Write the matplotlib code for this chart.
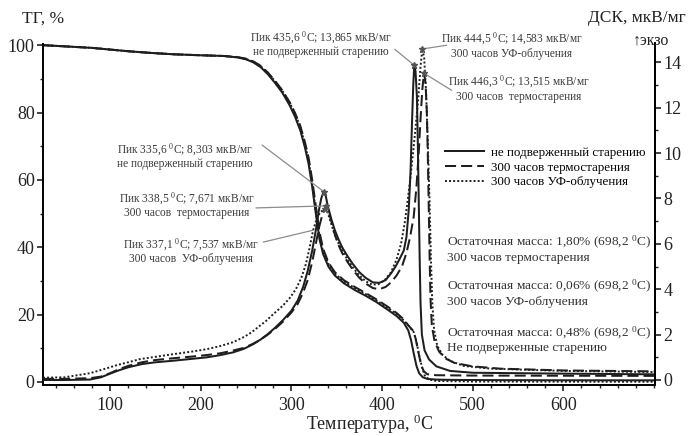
import matplotlib
matplotlib.use("Agg")
import matplotlib.pyplot as plt
from matplotlib.lines import Line2D
from matplotlib.ticker import MultipleLocator

plt.rcParams['font.family'] = ['Liberation Serif', 'DejaVu Serif']
plt.rcParams['mathtext.fontset'] = 'custom'
plt.rcParams['mathtext.rm'] = 'Liberation Serif'
plt.rcParams['mathtext.it'] = 'Liberation Serif:italic'

# ---------------- TG curves (left axis, %) ----------------
tg_ref_t = [26, 40, 60, 80, 100, 120, 145, 170, 200, 225, 240, 250, 258, 266, 274, 282,
            290, 298, 304, 310, 315, 319, 323, 327, 331, 335, 341, 348, 358, 370, 382,
            394, 406, 416, 424, 429, 432, 435, 438, 441, 445, 450, 460, 480, 520, 600, 700]
tg_ref = [100, 99.8, 99.5, 99.2, 98.7, 98.2, 97.7, 97.3, 97.0, 96.8, 96.4, 95.8, 94.9, 93.5,
          91.4, 88.8, 85.9, 82.2, 78.8, 74.6, 69.6, 64.8, 58.0, 50.0, 42.5, 38.0, 34.2,
          31.6, 29.3, 27.3, 25.6, 23.7, 21.5, 19.6, 17.6, 15.3, 12.5, 8.5, 4.8, 2.6, 1.4,
          0.9, 0.7, 0.6, 0.55, 0.5, 0.48]

tg_therm_t = [26, 40, 60, 80, 100, 120, 145, 170, 200, 225, 240, 250, 258, 266, 274, 282,
              290, 298, 304, 310, 315, 319, 323, 327, 331, 335, 341, 348, 358, 370, 382,
              394, 406, 416, 424, 429, 434, 437, 440, 443, 446, 450, 460, 500, 600, 700]
tg_therm = [100, 99.8, 99.5, 99.2, 98.7, 98.2, 97.7, 97.3, 97.0, 96.8, 96.5, 96.0, 95.2,
            93.9, 91.9, 89.4, 86.6, 83.1, 79.9, 75.9, 71.2, 66.6, 60.0, 52.2, 44.6, 39.6,
            35.4, 32.6, 30.2, 28.2, 26.4, 24.5, 22.4, 20.5, 18.6, 16.8, 15.3, 13.0, 9.0,
            5.2, 3.2, 2.3, 2.0, 1.9, 1.85, 1.8]

tg_uv_t = [26, 40, 60, 80, 100, 120, 145, 170, 200, 225, 240, 250, 258, 266, 274, 282,
           290, 298, 304, 310, 315, 319, 323, 327, 331, 335, 341, 348, 358, 370, 382,
           394, 406, 416, 424, 430, 435, 438, 441, 444, 447, 452, 460, 500, 600, 700]
tg_uv = [100, 99.8, 99.5, 99.2, 98.7, 98.2, 97.7, 97.3, 97.0, 96.8, 96.4, 95.9, 95.1,
         93.8, 91.8, 89.3, 86.5, 83.0, 79.8, 75.6, 70.6, 65.8, 58.8, 50.6, 43.4, 38.8,
         35.0, 32.2, 29.8, 27.9, 26.1, 24.2, 22.1, 20.2, 18.3, 16.5, 14.8, 12.0, 8.0,
         4.5, 2.0, 0.7, 0.3, 0.12, 0.08, 0.06]

# ---------------- DSC curves (right axis, мкВ/мг) ----------------
dsc_ref_t = [26, 50, 78, 90, 100, 110, 120, 135, 150, 170, 190, 207, 222, 236, 248, 258,
             266, 274, 282, 291, 300, 307, 313, 318, 323, 327, 330, 333, 335.6, 338, 340,
             344, 348, 352, 356, 362, 368, 375, 382, 390, 397, 404, 410, 415, 419, 424,
             427, 429.5, 431.5, 433, 434.5, 435.6, 437, 438.5, 439.5, 440.5, 441.5, 442.5,
             444, 447, 452, 460, 475, 500, 600, 700]
dsc_ref = [0.0, 0.0, 0.02, 0.12, 0.28, 0.43, 0.56, 0.70, 0.78, 0.85, 0.93, 1.0, 1.1, 1.22,
           1.38, 1.58, 1.78, 2.02, 2.3, 2.65, 3.05, 3.5, 4.1, 4.8, 5.7, 6.6, 7.4, 8.0,
           8.303, 8.1, 7.7, 7.1, 6.6, 6.2, 5.85, 5.45, 5.1, 4.75, 4.5, 4.3, 4.28, 4.4,
           4.7, 5.0, 5.3, 5.7, 6.3, 7.5, 9.2, 11.2, 13.0, 13.865, 13.6, 12.5, 10.5, 8.0,
           5.5, 3.4, 2.0, 1.3, 0.9, 0.6, 0.4, 0.32, 0.28, 0.25]

dsc_therm_t = [26, 50, 78, 90, 100, 110, 120, 135, 150, 170, 190, 207, 222, 236, 248, 258,
               266, 274, 282, 291, 300, 307, 313, 318, 323, 327, 331, 335, 338.5, 341,
               344, 348, 352, 356, 362, 368, 375, 382, 390, 397, 404, 410, 416, 422, 427,
               431, 435, 438, 440.5, 442.5, 444.5, 446.3, 448, 449.5, 450.5, 451.5, 452.5,
               453.5, 455, 458, 463, 470, 480, 500, 530, 600, 700]
dsc_therm = [0.05, 0.05, 0.08, 0.15, 0.3, 0.48, 0.62, 0.78, 0.88, 0.96, 1.03, 1.1, 1.18,
             1.3, 1.42, 1.6, 1.78, 2.0, 2.25, 2.58, 2.97, 3.35, 3.85, 4.4, 5.2, 6.0, 6.8,
             7.4, 7.671, 7.45, 7.0, 6.4, 5.95, 5.6, 5.2, 4.85, 4.5, 4.25, 4.05, 4.0, 4.1,
             4.3, 4.6, 5.0, 5.6, 6.3, 7.2, 8.5, 10.0, 11.5, 12.8, 13.515, 13.1, 11.8, 10.0,
             7.8, 5.5, 3.6, 2.4, 1.7, 1.25, 0.95, 0.75, 0.6, 0.5, 0.42, 0.38]

dsc_uv_t = [26, 50, 78, 95, 108, 120, 133, 150, 170, 190, 207, 222, 236, 248, 256, 264,
            272, 280, 290, 298, 305, 311, 316, 320, 324, 328, 332, 337.1, 340, 343, 347,
            351, 356, 362, 368, 375, 382, 389, 396, 403, 410, 416, 421, 425, 428, 431, 434,
            437, 440, 442.5, 444.5, 446.5, 448.5, 450.5, 452.5, 454, 455.5, 457.5, 461,
            467, 475, 490, 520, 600, 700]
dsc_uv = [0.1, 0.12, 0.3, 0.5, 0.66, 0.78, 0.92, 1.02, 1.14, 1.25, 1.36, 1.5, 1.67, 1.9,
          2.1, 2.35, 2.6, 2.9, 3.25, 3.6, 4.0, 4.5, 5.1, 5.8, 6.6, 7.1, 7.4, 7.537, 7.4,
          7.0, 6.5, 6.1, 5.7, 5.3, 4.95, 4.6, 4.35, 4.2, 4.22, 4.4, 4.75, 5.3, 6.0, 6.9,
          7.8, 8.8, 9.9, 11.1, 12.4, 13.8, 14.583, 14.2, 12.8, 10.5, 7.8, 5.3, 3.4, 2.2,
          1.5, 1.1, 0.85, 0.62, 0.5, 0.4, 0.35]

labels = ["не подверженный старению", "300 часов термостарения", "300 часов УФ-облучения"]

fig = plt.figure(figsize=(6.89, 4.36), dpi=100)
ax = fig.add_axes([0.0624, 0.117, 0.888, 0.784])
ax2 = ax.twinx()

ink = '#1e1e1e'
styles = [dict(ls='-', lw=1.45),
          dict(ls=(0, (5.5, 2.5)), lw=1.45),
          dict(ls=(0, (1, 1.1)), lw=1.4)]

for t, v, st in zip([tg_ref_t, tg_therm_t, tg_uv_t], [tg_ref, tg_therm, tg_uv], styles):
    ax.plot(t, v, color=ink, **st)
for t, v, st in zip([dsc_ref_t, dsc_therm_t, dsc_uv_t], [dsc_ref, dsc_therm, dsc_uv], styles):
    ax2.plot(t, v, color=ink, **st)

ax.set_xlim(26, 701)
ax.set_ylim(-0.9, 100.6)
ax2.set_ylim(-0.22, 14.84)

for a in (ax, ax2):
    a.spines['top'].set_visible(False)
    for s in a.spines.values():
        s.set_linewidth(1.4)
ax2.spines['left'].set_visible(False)
ax2.spines['bottom'].set_visible(False)
ax2.spines['right'].set_bounds(-0.22, 14.5)
ax.spines['left'].set_bounds(-0.9, 100.4)

ax.xaxis.set_major_locator(MultipleLocator(100))
ax.xaxis.set_minor_locator(MultipleLocator(20))
ax.yaxis.set_major_locator(MultipleLocator(20))
ax.yaxis.set_minor_locator(MultipleLocator(10))
ax2.yaxis.set_major_locator(MultipleLocator(2))
ax2.yaxis.set_minor_locator(MultipleLocator(1))
ax.set_xticks([100, 200, 300, 400, 500, 600])

for a in (ax, ax2):
    a.tick_params(which='major', direction='out', length=4, width=1.2, labelsize=13,
                  colors='#222')
    a.tick_params(which='minor', direction='out', length=2.5, width=1.0, colors='#222')
ax.tick_params(axis='x', pad=5)
ax.tick_params(axis='y', pad=2)
ax2.tick_params(axis='y', pad=2)

fig.text(0.032, 0.958, "ТГ, %", fontsize=12.5, ha='left', va='center', color='#222')
fig.text(0.995, 0.958, "ДСК, мкВ/мг", fontsize=12.5, ha='right', va='center', color='#222')
fig.text(0.945, 0.908, "↑экзо", fontsize=11.5, ha='center', va='center', color='#222',
         family=['Liberation Serif', 'DejaVu Sans'])
fig.text(0.537, 0.026, "Температура, $^{0}$C", fontsize=13, ha='center', va='center',
         color='#222')

# peak annotations
txt = '#3a3a3a'
lead = '#8c8c8c'
fs_ann = 8.3
peaks = [
    (dsc_ref_t, dsc_ref, 435.6, "Пик 435,6 $^{0}$С; 13,865 мкВ/мг\nне подверженный старению",
     (0.454, 0.997), (0.575, 0.982), 0),
    (dsc_uv_t, dsc_uv, 444.5, "Пик 444,5 $^{0}$С; 14,583 мкВ/мг\n300 часов УФ-облучения",
     (0.766, 0.994), (0.66, 0.994), 0),
    (dsc_therm_t, dsc_therm, 446.3, "Пик 446,3 $^{0}$С; 13,515 мкВ/мг\n300 часов  термостарения",
     (0.778, 0.868), (0.668, 0.862), 0),
    (dsc_ref_t, dsc_ref, 335.6, "Пик 335,6 $^{0}$С; 8,303 мкВ/мг\nне подверженный старению",
     (0.232, 0.67), (0.358, 0.702), 0),
    (dsc_therm_t, dsc_therm, 338.5, "Пик 338,5 $^{0}$С; 7,671 мкВ/мг\n300 часов  термостарения",
     (0.235, 0.527), (0.348, 0.518), 0),
    (dsc_uv_t, dsc_uv, 337.1, "Пик 337,1 $^{0}$С; 7,537 мкВ/мг\n300 часов  УФ-облучения",
     (0.242, 0.392), (0.36, 0.418), -3),
]
for t, v, tp, text, tpos, lpos, shift in peaks:
    i = t.index(tp)
    ax2.text(tpos[0], tpos[1], text, transform=ax2.transAxes, fontsize=fs_ann,
             ha='center', va='center', color=txt, linespacing=1.05)
    # the leader ends on the curve, `shift` points before the peak
    target = (t[i + shift], v[i + shift])
    ax2.annotate("", xy=target, xycoords='data', xytext=lpos, textcoords='axes fraction',
                 arrowprops=dict(arrowstyle='-', color=lead, lw=0.9, shrinkA=0, shrinkB=0))
    ax2.plot([t[i]], [v[i]], marker='*', ms=4.5, color='#555', mec='#555', zorder=5)

# legend
handles = [Line2D([], [], color=ink, **st) for st in styles]
ax2.legend(handles, labels, loc='upper left', bbox_to_anchor=(0.657, 0.697), frameon=False,
           fontsize=9.4, handlelength=3.0, handletextpad=0.5, labelspacing=0.2,
           borderaxespad=0, borderpad=0)

# residual masses
resid = [("Остаточная масса: 1,80% (698,2 $^{0}$C)\n300 часов термостарения", 0.399),
         ("Остаточная масса: 0,06% (698,2 $^{0}$C)\n300 часов УФ-облучения", 0.269),
         ("Остаточная масса: 0,48% (698,2 $^{0}$C)\nНе подверженные старению", 0.133)]
for text, y in resid:
    ax2.text(0.660, y, text, transform=ax2.transAxes, fontsize=9.6, ha='left', va='center',
             color='#333', linespacing=1.1)

fig.savefig("out.png", dpi=100)
